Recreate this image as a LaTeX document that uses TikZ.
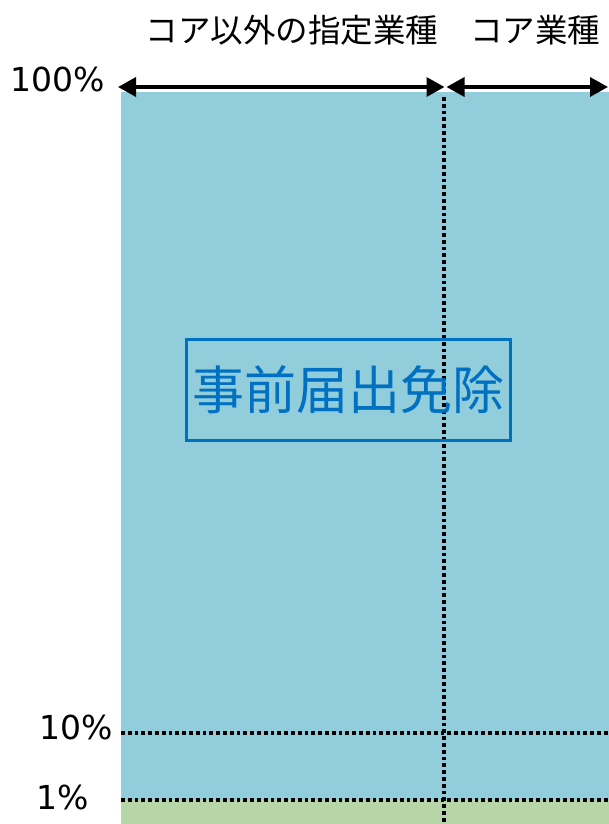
\documentclass[tikz,border=0pt]{standalone}
\usepackage{fontspec}
\setmainfont{Noto Sans CJK JP}
\newfontfamily\pctfont{DejaVu Sans}
\usepackage{tikz}
\usetikzlibrary{positioning, calc, arrows.meta}
\definecolor{aqua}{RGB}{146,205,220}
\definecolor{leaf}{RGB}{183,214,168}
\definecolor{titleblue}{RGB}{0,112,192}

\begin{document}
\begin{tikzpicture}[
    x=1pt, y=-1pt,
    >={Triangle[length=18pt, width=19pt]},
    span/.style={<->, line width=3.5pt},
    grid/.style={line width=4pt, dash pattern=on 3.8pt off 3pt},
    pct/.style={anchor=east, font=\pctfont\fontsize{33}{33}\selectfont, inner sep=0pt},
    head/.style={font=\fontsize{32.5}{32.5}\selectfont, inner sep=0pt}
]
\useasboundingbox (0,0) rectangle (609,824);

% 領域
\fill[aqua] (121,92) rectangle (609,800);
\fill[leaf] (121,800) rectangle (609,824);

% 座標
\coordinate (aL) at (118,87);
\coordinate (aM) at (445.5,87);
\coordinate (aR) at (608,87);
\coordinate (vT) at (444,97);
\coordinate (vB) at (444,824);
\coordinate (h10L) at (121,733);
\coordinate (h10R) at (609,733);
\coordinate (h1L) at (121,800);
\coordinate (h1R) at (609,800);

% 点線
\draw[grid] (vT) -- (vB);
\draw[grid] (h10L) -- (h10R);
\draw[grid] (h1L) -- (h1R);

% 矢印
\draw[span] (aL) -- ($(aM)+(-1,0)$);
\draw[span] ($(aM)+(1,0)$) -- (aR);

% ラベル
\node[head] (other) at (292,30) {コア以外の指定業種};
\node[head] (core) at (535,30) {コア業種};
\node[pct] (p100) at (105,79) {100\%};
\node[pct] (p10) at (113,727) {10\%};
\node[pct] (p1) at (89,797) {1\%};

% 事前届出免除
\node[draw=titleblue, line width=3pt, text=titleblue,
      minimum width=324pt, minimum height=101pt,
      font=\fontsize{52}{52}\selectfont] (exempt) at (348,390) {事前届出免除};

\end{tikzpicture}
\end{document}
